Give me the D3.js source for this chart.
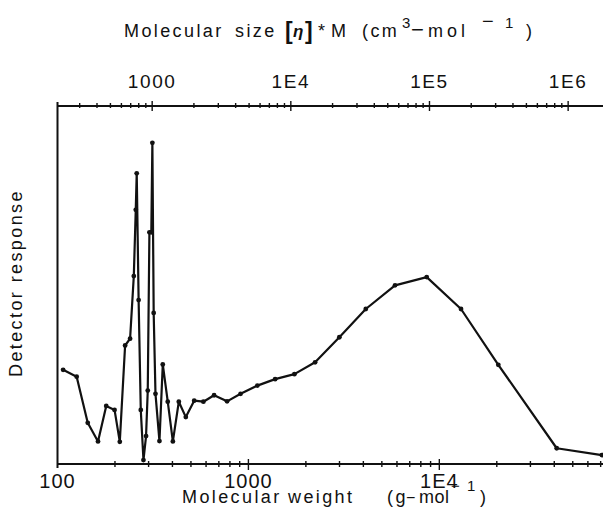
<!DOCTYPE html>
<html lang="en">
<head>
    <meta charset="UTF-8">
    <title>Detector response vs molecular weight</title>
    <script src="https://d3js.org/d3.v7.min.js"></script>
    <style>
        body { margin: 0; background: #fff; }
        svg { display: block; }
        text { font-family: "Liberation Sans", Arial, sans-serif; fill: #111; }
    </style>
</head>
<body>
  <svg id="chart" width="603" height="514"></svg>

  <script>
      // data
      const molWeight = [107, 126, 144, 163, 180, 199, 212, 226, 240, 251, 257, 260, 266, 273, 282, 291, 297,
                         303, 310, 314, 319, 326, 342, 356, 378, 402, 432, 470, 520, 581, 661, 773, 910,
                         1114, 1380, 1741, 2235, 2995, 4119, 5862, 8590, 12990, 20370, 41190, 71000];
      const response = [26.3, 24.4, 11.5, 6.3, 16.2, 15.1, 6.2, 33.1, 35.0, 52.5, 71, 81.2, 45.8, 15.1, 1.1, 7.8, 20.5,
                        64.7, 64.7, 89.7, 42.2, 19.6, 6.4, 27.8, 17.4, 6.3, 17.4, 13.1, 17.7, 17.4, 19.2, 17.5, 19.6,
                        21.9, 23.7, 25.1, 28.4, 35.4, 43.3, 49.9, 52.2, 43.3, 27.7, 4.4, 2.5];

      const bottomTicks = [100, 1000, 10000];
      const bottomLabels = ["100", "1000", "1E4"];
      const topTicks = [1000, 1e4, 1e5, 1e6];
      const topLabels = ["1000", "1E4", "1E5", "1E6"];

      const svg = d3.select("#chart");
      const left = 57.5, right = 603, topY = 106, bottomY = 464;

      const x = d3.scaleLog().domain([100, 72000]).range([left, right]);
      const xTop = d3.scaleLog().domain([207.6, 1.784e6]).range([left, right]);
      const y = d3.scaleLinear().domain([0, 100]).range([bottomY, topY]);

      const ink = "#111";

      // helper for the spaced-out plotter lettering
      function word(str, px, py, size, opts) {
          const t = svg.append("text").attr("x", px).attr("y", py)
                       .attr("font-size", size).attr("letter-spacing", 2.4).text(str);
          if (opts) Object.keys(opts).forEach(k => t.attr(k, opts[k]));
          return t;
      }

      // bottom axis
      svg.append("line").attr("x1", left).attr("x2", right)
         .attr("y1", bottomY).attr("y2", bottomY)
         .attr("stroke", ink).attr("stroke-width", 2);

      svg.append("g").selectAll("line")
         .data(x.ticks().filter(d => d > 100))
         .join("line")
         .attr("x1", d => x(d)).attr("x2", d => x(d))
         .attr("y1", d => bottomTicks.includes(d) ? bottomY - 5 : bottomY - 3)
         .attr("y2", d => bottomTicks.includes(d) ? bottomY + 6 : bottomY + 3)
         .attr("stroke", ink).attr("stroke-width", 1.4);

      svg.append("g").selectAll("text")
         .data(bottomTicks)
         .join("text")
         .attr("x", d => x(d)).attr("y", 488)
         .attr("text-anchor", "middle")
         .attr("font-size", 20).attr("letter-spacing", 1)
         .text((d, i) => bottomLabels[i]);

      // top axis
      svg.append("line").attr("x1", left).attr("x2", right)
         .attr("y1", topY).attr("y2", topY)
         .attr("stroke", ink).attr("stroke-width", 2);

      svg.append("g").selectAll("line")
         .data(xTop.ticks().filter(d => d > 250))
         .join("line")
         .attr("x1", d => xTop(d)).attr("x2", d => xTop(d))
         .attr("y1", d => topTicks.includes(d) ? topY - 5 : topY - 3)
         .attr("y2", d => topTicks.includes(d) ? topY + 5 : topY + 2)
         .attr("stroke", ink).attr("stroke-width", 1.4);

      svg.append("g").selectAll("text")
         .data(topTicks)
         .join("text")
         .attr("x", d => xTop(d)).attr("y", 88)
         .attr("text-anchor", "middle")
         .attr("font-size", 19).attr("letter-spacing", 1.6)
         .text((d, i) => topLabels[i]);

      // left axis
      svg.append("line").attr("x1", left).attr("x2", left)
         .attr("y1", topY - 4).attr("y2", bottomY + 4)
         .attr("stroke", ink).attr("stroke-width", 2);

      // top title: Molecular size [η] * M (cm3-mol-1)
      word("Molecular", 124, 37, 18);
      word("size", 235, 37, 18);
      word("[", 285, 39, 23, {"font-weight": "bold"});
      word("η", 293, 37, 17, {"font-family": "DejaVu Serif", "font-weight": "bold", "font-style": "italic"});
      word("]", 305, 39, 23, {"font-weight": "bold"});
      word("*", 318, 37, 18);
      word("M", 331, 37, 18);
      word("(cm", 362, 37, 18);
      word("3", 402, 28, 15);
      word("−", 411, 37, 22, {"letter-spacing": 0});
      word("mol", 428, 37, 18, {"letter-spacing": 4});
      word("−", 482, 28, 20, {"letter-spacing": 0});
      word("1", 505, 28, 15);
      word(")", 526, 37, 18);

      // bottom title: Molecular weight (g-mol-1)
      word("Molecular", 182, 503, 18);
      word("weight", 288, 503, 18);
      word("(g", 387, 503, 18);
      word("−", 406, 503, 16, {"letter-spacing": 0});
      word("mol", 419, 503, 18, {"letter-spacing": 0.5});
      word("−", 451, 491, 15, {"letter-spacing": 0});
      word("1", 467, 491, 15);
      word(")", 480, 503, 18);

      svg.append("text")
         .attr("transform", "translate(22,377) rotate(-90)")
         .attr("font-size", 18).attr("letter-spacing", 2.4)
         .text("Detector response");

      // data line and points
      const pts = molWeight.map((m, i) => [m, response[i]]);
      const line = d3.line().x(d => x(d[0])).y(d => y(d[1]));

      svg.append("path")
         .datum(pts)
         .attr("d", line)
         .attr("fill", "none")
         .attr("stroke", ink)
         .attr("stroke-width", 2.2)
         .attr("stroke-linejoin", "round");

      svg.append("g").selectAll("circle")
         .data(pts)
         .join("circle")
         .attr("cx", d => x(d[0]))
         .attr("cy", d => y(d[1]))
         .attr("r", 2.4)
         .attr("fill", ink);
  </script>
</body>
</html>
